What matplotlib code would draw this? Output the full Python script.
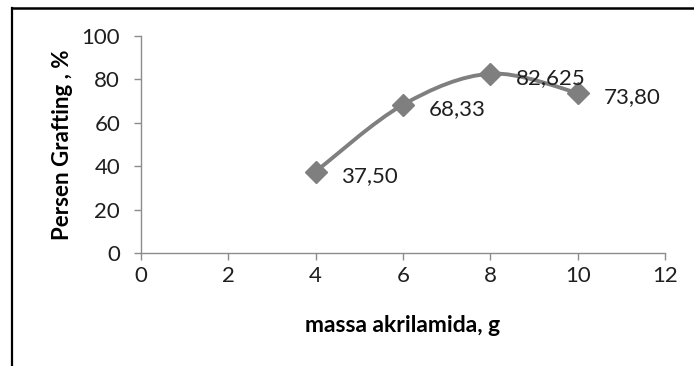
import numpy as np
import matplotlib
matplotlib.use("Agg")
import matplotlib.pyplot as plt
from matplotlib.path import Path
from matplotlib.patches import PathPatch
from matplotlib.lines import Line2D

# data
massa = [4, 6, 8, 10]
grafting = [37.50, 68.33, 82.625, 73.80]
labels = ["37,50", "68,33", "82,625", "73,80"]

x_ticks = [0, 2, 4, 6, 8, 10, 12]
y_ticks = [0, 20, 40, 60, 80, 100]

plt.rcParams['font.family'] = ['Lato', 'DejaVu Sans']

grey = '#7f7f7f'
axis_grey = '#8c8c8c'
text_col = '#1f1f1f'

fig = plt.figure(figsize=(6.94, 3.66), dpi=100)
ax = fig.add_axes([141 / 694, 113 / 366, 524 / 694, 217 / 366])


# smoothed line like the spreadsheet one (bezier through the points)
def smooth_path(xs, ys):
    pts = np.column_stack([xs, ys]).astype(float)
    ext = np.vstack([pts[0], pts, pts[-1]])
    verts = [pts[0]]
    codes = [Path.MOVETO]
    for i in range(len(pts) - 1):
        p0, p1, p2, p3 = ext[i], ext[i + 1], ext[i + 2], ext[i + 3]
        c1 = p1 + (p2 - p0) / 6
        c2 = p2 - (p3 - p1) / 6
        verts += [c1, c2, p2]
        codes += [Path.CURVE4] * 3
    return Path(verts, codes)


ax.add_patch(PathPatch(smooth_path(massa, grafting), facecolor='none',
                       edgecolor=grey, lw=2.8, capstyle='round', zorder=2))
ax.plot(massa, grafting, linestyle='none', marker='D', markersize=11.5,
        color=grey, zorder=3)

for x, y, lab in zip(massa, grafting, labels):
    ax.annotate(lab, (x, y), xytext=(18.5, -1.5), textcoords='offset points',
                ha='left', va='center_baseline', fontsize=16, color=text_col)

ax.set_xlim(0, 12)
ax.set_ylim(0, 100)
ax.set_xticks(x_ticks)
ax.set_yticks(y_ticks)
ax.tick_params(axis='both', direction='out', color=axis_grey, length=5,
               width=1, labelsize=16, labelcolor=text_col)
ax.tick_params(axis='y', pad=10)
ax.tick_params(axis='x', pad=4)

for s in ['top', 'right']:
    ax.spines[s].set_visible(False)
for s in ['left', 'bottom']:
    ax.spines[s].set_color(axis_grey)
    ax.spines[s].set_linewidth(1)

ax.set_xlabel("massa akrilamida, g", fontsize=16.5, fontweight='bold', color='black')
ax.set_ylabel("Persen Grafting , %", fontsize=16, fontweight='bold', color='black')
ax.xaxis.set_label_coords(0.5, -0.285)
ax.yaxis.set_label_coords(-0.13, 0.5)

# outer border of the chart area (only top and left are visible)
fig.add_artist(Line2D([11.5 / 694, 11.5 / 694], [0, 1 - 7.5 / 366],
                      color='black', lw=1.6, transform=fig.transFigure))
fig.add_artist(Line2D([11.5 / 694, 1], [1 - 7.5 / 366, 1 - 7.5 / 366],
                      color='black', lw=1.8, transform=fig.transFigure))

fig.savefig("out.png", dpi=100)
